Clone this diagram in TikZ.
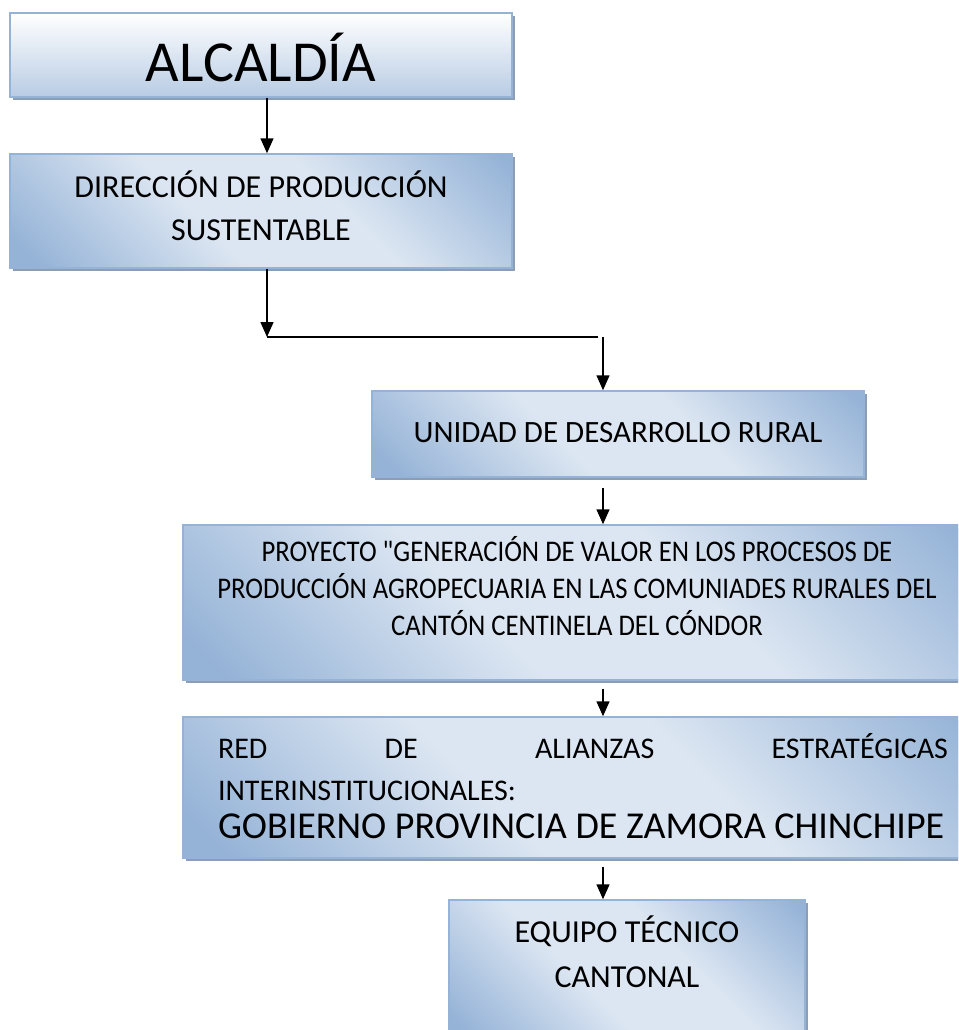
\documentclass[tikz,border=0pt]{standalone}
\usepackage{fontspec}
\setmainfont{Carlito}
\newfontfamily\estrecha[FakeStretch=0.89]{Carlito}
\usetikzlibrary{arrows.meta, positioning, shadows, calc}

\definecolor{oscuro}{RGB}{149,179,215}
\definecolor{claro}{RGB}{220,230,242}
\definecolor{borde}{RGB}{149,179,215}
\definecolor{sombra}{RGB}{140,158,181}
\definecolor{celeste}{RGB}{184,204,228}
\pgfdeclarehorizontalshading{degradado}{100bp}{color(0bp)=(oscuro); color(18bp)=(oscuro); color(42bp)=(claro); color(60bp)=(claro); color(84bp)=(oscuro); color(100bp)=(oscuro)}

\begin{document}
\begin{tikzpicture}[x=1pt, y=-1pt,
        caja/.style={rectangle, draw=borde, line width=1.5pt, shading=degradado, shading angle=45,
            drop shadow={shadow xshift=3pt, shadow yshift=-3pt, fill=sombra, opacity=1},
            font=\fontsize{32}{43}\selectfont, align=center, inner sep=0pt},
        flecha/.style={line width=1.5pt, -{Triangle[length=15pt, width=13pt]}},
        linea/.style={line width=1.5pt}
    ]
        \clip (0,0) rectangle (958,1030);

        % Cajas del organigrama
        \node [caja, top color=white, bottom color=celeste, shading angle=0, font=\fontsize{58}{70}\selectfont,
            text height=54pt, text depth=0pt, minimum width=502pt, minimum height=84pt] (alcaldia) at (261,55) {ALCALDÍA};
        \node [caja, text height=60pt, text depth=2pt, minimum width=502pt, minimum height=114pt] (direccion) at (261,211)
            {DIRECCIÓN DE PRODUCCIÓN\\SUSTENTABLE};
        \node [caja, font=\fontsize{31}{43}\selectfont, text height=22pt, text depth=6pt, minimum width=492pt, minimum height=86pt] (unidad) at (618,434)
            {UNIDAD DE DESARROLLO RURAL};
        \node [caja, font=\estrecha\fontsize{30}{37}\selectfont, text height=70pt, text depth=5pt,
            minimum width=788pt, minimum height=155pt] (proyecto) at (577,602.5)
            {PROYECTO "GENERACIÓN DE VALOR EN LOS PROCESOS DE\\PRODUCCIÓN AGROPECUARIA EN LAS COMUNIADES RURALES DEL\\CANTÓN CENTINELA DEL CÓNDOR};
        \node [caja, font=\fontsize{30}{42}\selectfont, align=flush left, text width=730pt, inner xsep=35pt,
            text height=22pt, text depth=81pt, minimum height=141pt] (red) at (583,787.5)
            {\hbox to \linewidth{RED\hfill DE\hfill ALIANZAS\hfill ESTRATÉGICAS}\\INTERINSTITUCIONALES:\\[-4pt]
             {\fontsize{38}{38}\selectfont GOBIERNO PROVINCIA DE ZAMORA CHINCHIPE}};
        \node [caja, font=\fontsize{32}{45}\selectfont, text height=40pt, text depth=6pt,
            minimum width=356pt, minimum height=140pt] (equipo) at (627,970) {EQUIPO TÉCNICO\\CANTONAL};

        % Conectores
        \coordinate (codo1) at (267,337);
        \coordinate (codo2) at (603,337);
        \draw[flecha] ([xshift=6pt]alcaldia.south) -- ([xshift=6pt]direccion.north);
        \draw[flecha] ([xshift=6pt]direccion.south) -- (codo1);
        \draw[linea] (codo1) -- ($(codo2)+(-5,0)$);
        \draw[flecha] (codo2) -- (codo2 |- unidad.north);
        \draw[flecha, shorten <=10pt] (unidad.south -| codo2) -- (proyecto.north -| codo2);
        \draw[flecha, shorten <=8pt] (proyecto.south -| codo2) -- (red.north -| codo2);
        \draw[flecha, shorten <=8pt] (red.south -| codo2) -- (equipo.north -| codo2);
    \end{tikzpicture}
\end{document}
